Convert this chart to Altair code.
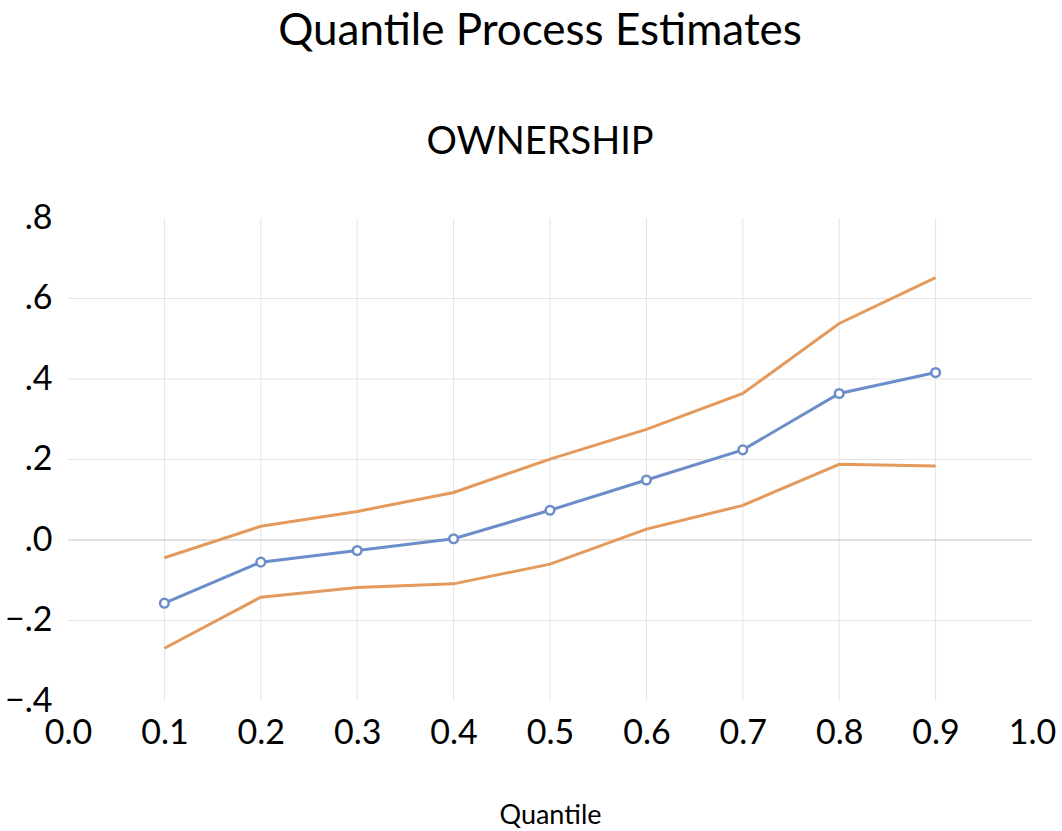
import altair as alt
import pandas as pd

# Quantile levels and estimated coefficient process with its confidence band
quantiles = [0.1, 0.2, 0.3, 0.4, 0.5, 0.6, 0.7, 0.8, 0.9]
estimate = [-0.157, -0.055, -0.026, 0.003, 0.074, 0.149, 0.224, 0.364, 0.416]
upper = [-0.044, 0.034, 0.071, 0.118, 0.201, 0.275, 0.364, 0.538, 0.652]
lower = [-0.269, -0.142, -0.118, -0.109, -0.060, 0.027, 0.086, 0.188, 0.184]

x_ticks = [0.0, 0.1, 0.2, 0.3, 0.4, 0.5, 0.6, 0.7, 0.8, 0.9, 1.0]
y_ticks = [-0.4, -0.2, 0.0, 0.2, 0.4, 0.6, 0.8]

# interior grid lines (the outer frame is left open)
x_grid = [0.1, 0.2, 0.3, 0.4, 0.5, 0.6, 0.7, 0.8, 0.9]
y_grid = [-0.2, 0.2, 0.4, 0.6]
y_zero = [0.0]

FONT = "Lato"
BLUE = "#6b8dc8"
ORANGE = "#e49a5c"
GRID = "#e4e4e4"
ZERO = "#c4c4c4"

est_df = pd.DataFrame({"q": quantiles, "v": estimate})
band_df = pd.concat([
    pd.DataFrame({"q": quantiles, "v": upper, "s": "upper"}),
    pd.DataFrame({"q": quantiles, "v": lower, "s": "lower"}),
])

x_scale = alt.Scale(domain=[0, 1], nice=False, zero=False)
y_scale = alt.Scale(domain=[-0.4, 0.8], nice=False, zero=False)

x_axis = alt.Axis(
    values=x_ticks,
    format=".1f",
    title="Quantile",
    titleFontSize=27,
    titleFontWeight="normal",
    titleFont=FONT,
    titleColor="#000000",
    titlePadding=52,
    labelFontSize=34,
    labelFont=FONT,
    labelColor="#000000",
    labelPadding=15,
    labelFlush=False,
    domain=False,
    ticks=False,
    grid=False,
)

y_axis = alt.Axis(
    values=y_ticks,
    labelExpr="replace(format(datum.value, '.1f'), '0.', '.')",
    title=None,
    labelFontSize=34,
    labelFont=FONT,
    labelColor="#000000",
    labelPadding=16,
    labelFlush=False,
    domain=False,
    ticks=False,
    grid=False,
)

x_enc = alt.X("q:Q", scale=x_scale, axis=x_axis)
y_enc = alt.Y("v:Q", scale=y_scale, axis=y_axis)

vgrid = alt.Chart(pd.DataFrame({"q": x_grid})).mark_rule(color=GRID, strokeWidth=1).encode(
    x=alt.X("q:Q", scale=x_scale, axis=x_axis)
)
hgrid = alt.Chart(pd.DataFrame({"v": y_grid})).mark_rule(color=GRID, strokeWidth=1).encode(
    y=alt.Y("v:Q", scale=y_scale, axis=y_axis)
)
zline = alt.Chart(pd.DataFrame({"v": y_zero})).mark_rule(color=ZERO, strokeWidth=1).encode(
    y=alt.Y("v:Q", scale=y_scale, axis=y_axis)
)

band = alt.Chart(band_df).mark_line(color=ORANGE, strokeWidth=3).encode(
    x=x_enc, y=y_enc, detail="s:N"
)

est_line = alt.Chart(est_df).mark_line(color=BLUE, strokeWidth=3).encode(x=x_enc, y=y_enc)
est_pts = alt.Chart(est_df).mark_point(
    shape="circle", filled=True, fill="white", stroke=BLUE, strokeWidth=2.5, size=75, opacity=1
).encode(x=x_enc, y=y_enc)

chart = (
    alt.layer(vgrid, hgrid, zline, band, est_line, est_pts)
    .properties(
        width=964,
        height=483,
        background="white",
        autosize=alt.AutoSizeParams(type="none"),
        padding={"left": 68, "top": 218, "right": 30, "bottom": 130},
        title=alt.TitleParams(
            text="Quantile Process Estimates",
            subtitle="OWNERSHIP",
            anchor="middle",
            font=FONT,
            fontSize=44,
            fontWeight="normal",
            color="#000000",
            subtitleFont=FONT,
            subtitleFontSize=38,
            subtitleColor="#000000",
            subtitlePadding=70,
            offset=39,
            dx=-10,
        ),
    )
    .configure_axis(grid=False)
    .configure_view(stroke=None, strokeWidth=0)
)

chart.save("out.html", embed_options={"renderer": "svg", "actions": False})
